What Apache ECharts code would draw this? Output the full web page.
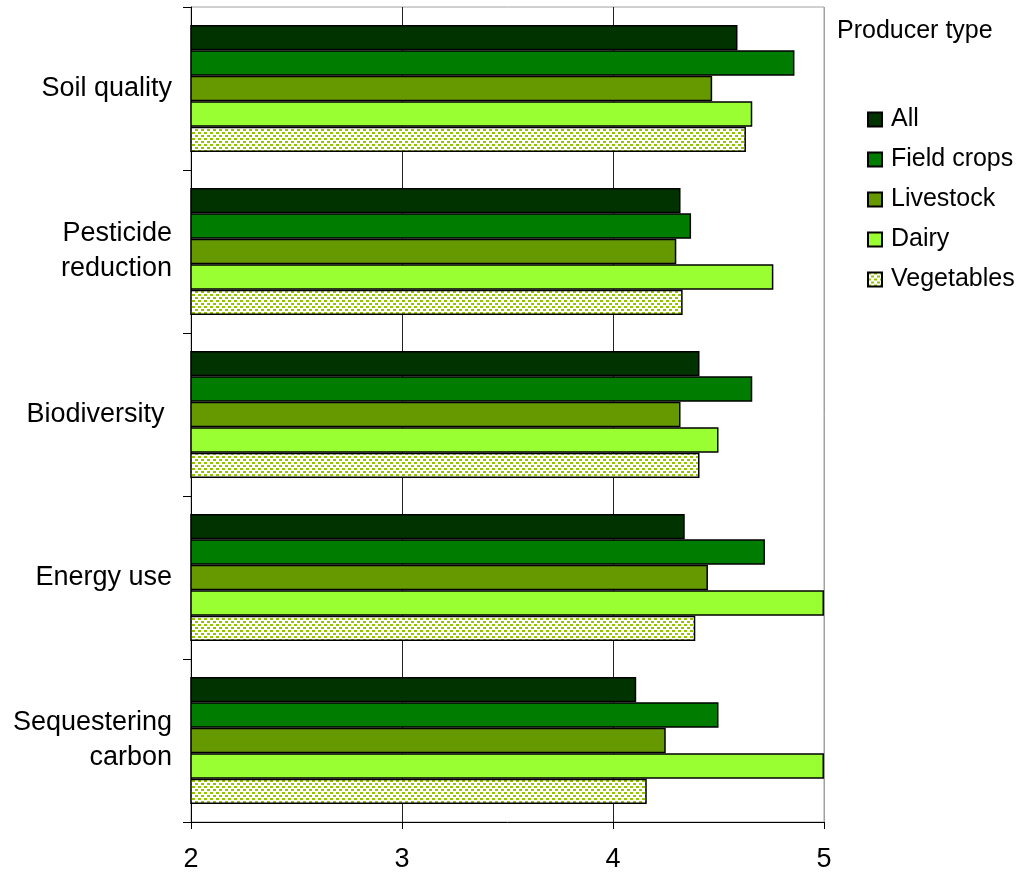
<!DOCTYPE html>
<html>
<head>
<meta charset="utf-8">
<script src="https://cdn.jsdelivr.net/npm/echarts@6/dist/echarts.min.js"></script>
<style>
  html, body { margin: 0; padding: 0; background: #fff; }
  #chart { width: 1018px; height: 875px; }
</style>
</head>
<body>
<div id="chart"></div>
<script>
// Environmental benefit categories (top to bottom)
const categories = ['Soil quality', 'Pesticide\nreduction', 'Biodiversity ', 'Energy use', 'Sequestering\ncarbon'];

// Mean ratings by producer type
const producerTypes = ['All', 'Field crops', 'Livestock', 'Dairy', 'Vegetables'];
const allProducers = [4.59, 4.32, 4.41, 4.34, 4.11];
const fieldCrops   = [4.86, 4.37, 4.66, 4.72, 4.50];
const livestock    = [4.47, 4.30, 4.32, 4.45, 4.25];
const dairy        = [4.66, 4.76, 4.50, 5.00, 5.00];
const vegetables   = [4.63, 4.33, 4.41, 4.39, 4.16];

const xTicks = [2, 3, 4, 5];

const FONT = "'Liberation Sans', Arial, sans-serif";

// Dotted fill for the vegetables bars
function dotPattern() {
  const c = document.createElement('canvas');
  c.width = 6; c.height = 6;
  const g = c.getContext('2d');
  g.fillStyle = '#ffffff';
  g.fillRect(0, 0, 6, 6);
  g.fillStyle = '#92c400';
  g.fillRect(0, 0, 3, 2);
  g.fillRect(3, 3, 3, 2);
  return { image: c, repeat: 'repeat' };
}

const fills = ['#003300', '#007d00', '#669900', '#99ff33', dotPattern()];
const seriesValues = [allProducers, fieldCrops, livestock, dairy, vegetables];

const chart = echarts.init(document.getElementById('chart'), null, { renderer: 'canvas' });

chart.setOption({
  animation: false,
  backgroundColor: '#ffffff',
  textStyle: { fontFamily: FONT, color: '#000' },
  title: {
    text: 'Producer type',
    left: 837,
    top: 19,
    padding: 0,
    textStyle: { fontFamily: FONT, fontSize: 25, fontWeight: 'normal', color: '#000' }
  },
  legend: {
    orient: 'vertical',
    left: 867,
    top: 107,
    padding: 0,
    itemWidth: 14,
    itemHeight: 14,
    itemGap: 15,
    icon: 'rect',
    textStyle: { fontFamily: FONT, fontSize: 25, lineHeight: 25, color: '#000', padding: [0, 0, 0, 4] },
    data: producerTypes
  },
  grid: {
    left: 191,
    right: 194,
    top: 7,
    bottom: 53,
    show: true,
    borderColor: '#a0a0a0',
    borderWidth: 1,
    containLabel: false
  },
  xAxis: {
    type: 'value',
    min: xTicks[0],
    max: xTicks[xTicks.length - 1],
    interval: 1,
    axisLine: { show: true, lineStyle: { color: '#000', width: 1 } },
    axisTick: { show: true, length: 7, lineStyle: { color: '#000' } },
    axisLabel: { fontFamily: FONT, fontSize: 27, color: '#000', margin: 24 },
    splitLine: { show: true, lineStyle: { color: ['#000', '#222', '#222', '#a0a0a0'], width: 1 } }
  },
  yAxis: {
    type: 'category',
    inverse: true,
    data: categories,
    axisLine: { show: true, lineStyle: { color: '#000', width: 1 } },
    axisTick: { show: true, length: 8, lineStyle: { color: '#000' } },
    axisLabel: { fontFamily: FONT, fontSize: 27, color: '#000', margin: 19, lineHeight: 35, align: 'right', padding: [4, 0, 0, 0] },
    splitLine: { show: false }
  },
  series: producerTypes.map((name, i) => ({
    name: name,
    type: 'bar',
    data: seriesValues[i],
    barGap: '0%',
    barCategoryGap: '22%',
    itemStyle: { color: fills[i], borderColor: '#000', borderWidth: 1.5 }
  }))
});
</script>
</body>
</html>
